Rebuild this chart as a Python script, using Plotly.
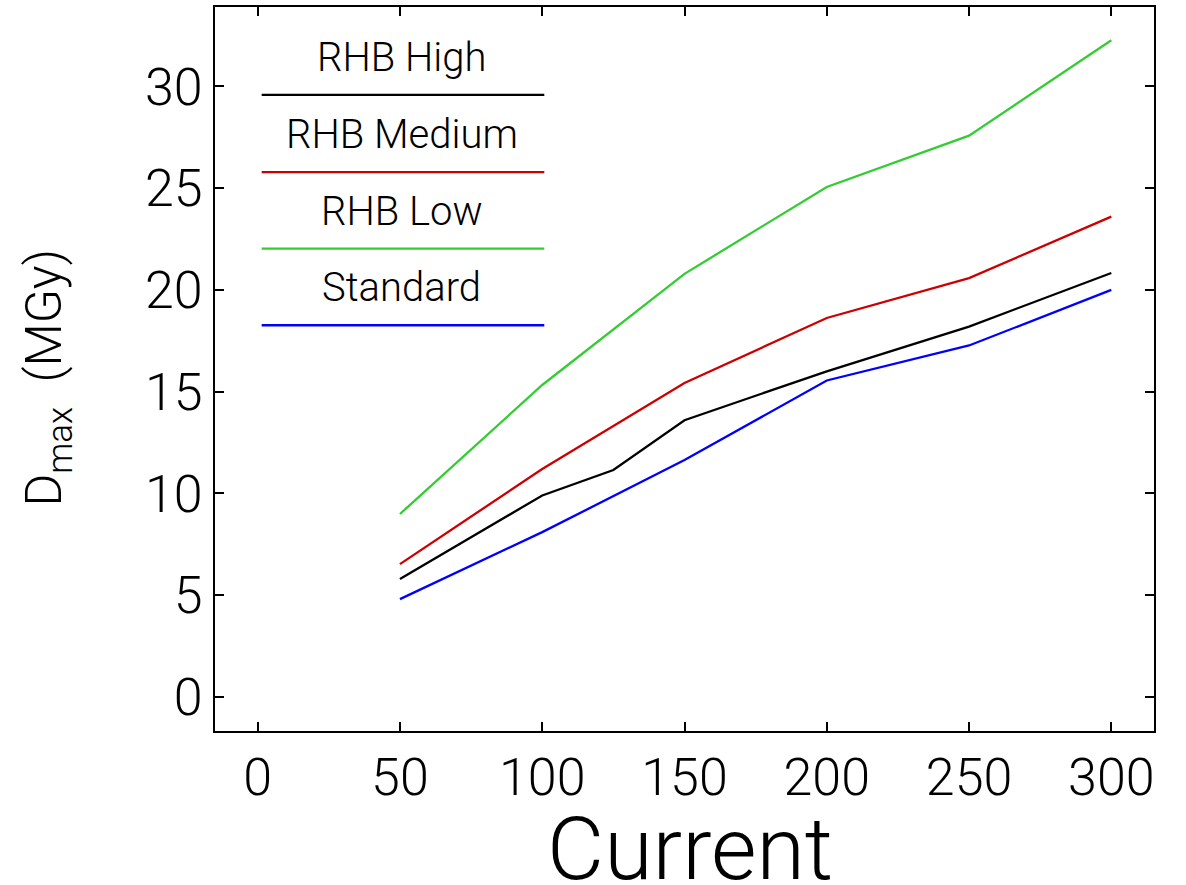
import plotly.graph_objects as go

# Maximum dose versus beam current for each configuration
x_high = [50, 100, 125, 150, 200, 250, 300]
y_high = [5.8, 9.9, 11.15, 13.6, 16.0, 18.2, 20.83]

x_medium = [50, 100, 150, 200, 250, 300]
y_medium = [6.53, 11.2, 15.43, 18.62, 20.58, 23.6]

x_low = [50, 100, 150, 200, 250, 300]
y_low = [8.99, 15.33, 20.79, 25.06, 27.58, 32.27]

x_standard = [50, 100, 150, 200, 250, 300]
y_standard = [4.81, 8.1, 11.64, 15.55, 17.27, 20.0]

series_names = ["RHB High", "RHB Medium", "RHB Low", "Standard"]
series_colors = ["#000000", "#cc0000", "#33cc33", "#0000ff"]

x_ticks = [0, 50, 100, 150, 200, 250, 300]
y_ticks = [0, 5, 10, 15, 20, 25, 30]

FONT = "Roboto"

fig = go.Figure()
for xs, ys, name, color in zip(
    [x_high, x_medium, x_low, x_standard],
    [y_high, y_medium, y_low, y_standard],
    series_names,
    series_colors,
):
    fig.add_trace(go.Scatter(
        x=xs, y=ys, mode="lines", name=name,
        line=dict(color=color, width=2.3),
        showlegend=False,
    ))

# Hand-drawn key in the upper-left corner: label above a coloured sample line
key_line_y = [0.8787, 0.7719, 0.6663, 0.5604]
for name, color, ly in zip(series_names, series_colors, key_line_y):
    fig.add_shape(
        type="line", xref="paper", yref="paper",
        x0=0.0497, x1=0.3507, y0=ly, y1=ly,
        line=dict(color=color, width=2.3),
    )
    fig.add_annotation(
        xref="paper", yref="paper", x=0.199, y=ly + 0.0515,
        text=name, showarrow=False, xanchor="center", yanchor="middle",
        font=dict(family=FONT, size=40, color="#000000", weight=300),
    )

# Axis titles placed as free text outside the plotting area
fig.add_annotation(
    xref="paper", yref="paper", x=0.506, y=-0.162,
    text="Current", showarrow=False, xanchor="center", yanchor="middle",
    font=dict(family=FONT, size=88, color="#000000", weight=300),
)
fig.add_annotation(
    xref="paper", yref="paper", x=-0.178, y=0.488, textangle=-90,
    text="D<sub>max</sub>  (MGy)", showarrow=False,
    xanchor="center", yanchor="middle",
    font=dict(family=FONT, size=50, color="#000000", weight=300),
)

axis_common = dict(
    showgrid=False, zeroline=False, showline=True, mirror="ticks",
    linecolor="#000000", linewidth=2,
    ticks="inside", ticklen=9, tickwidth=2, tickcolor="#000000",
    tickfont=dict(family=FONT, size=52, color="#000000", weight=300),
    automargin=False,
)

fig.update_layout(
    width=1186, height=885,
    margin=dict(l=215, r=32, t=7, b=154),
    paper_bgcolor="#ffffff", plot_bgcolor="#ffffff",
    xaxis=dict(
        range=[-15, 315], tickmode="array", tickvals=x_ticks,
        ticktext=[str(v) for v in x_ticks],
        **axis_common,
    ),
    yaxis=dict(
        range=[-1.67, 33.9], tickmode="array", tickvals=y_ticks,
        ticktext=[str(v) for v in y_ticks],
        **axis_common,
    ),
)

fig.write_html("out.html")
